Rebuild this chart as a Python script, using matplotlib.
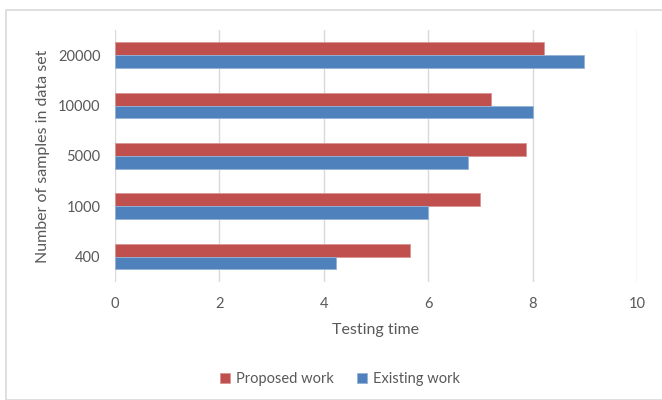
import matplotlib
matplotlib.use("Agg")
import matplotlib.pyplot as plt
from matplotlib.patches import Rectangle
import numpy as np

# Data: testing time by number of samples in the data set
categories = ["400", "1000", "5000", "10000", "20000"]
proposed_work = [5.65, 7.0, 7.87, 7.2, 8.21]
existing_work = [4.24, 6.0, 6.76, 8.0, 8.98]
x_ticks = [0, 2, 4, 6, 8, 10]

plt.rcParams["font.family"] = ["Lato", "DejaVu Sans"]
text_color = "#595959"
red = "#C0504D"
blue = "#4F81BD"

fig = plt.figure(figsize=(6.62, 4.0), dpi=100)
ax = fig.add_axes([0.1731, 0.2958, 0.7893, 0.6292])

# light outer chart frame
fig.patches.append(Rectangle((6 / 662, 0), 1.0, 1 - 10 / 400, transform=fig.transFigure,
                             fill=False, edgecolor="#D9D9D9", linewidth=1.2))

y = np.arange(len(categories))
h = 0.258
ax.barh(y + h / 2, proposed_work, height=h, color=red, edgecolor="#D99694",
        linewidth=0.6, label="Proposed work", zorder=3)
ax.barh(y - h / 2, existing_work, height=h, color=blue, edgecolor="#95B3D7",
        linewidth=0.6, label="Existing work", zorder=3)

ax.set_xlim(0, 10)
ax.set_ylim(-0.5, len(categories) - 0.5)
ax.set_xticks(x_ticks)
ax.set_xticklabels([str(t) for t in x_ticks])
ax.set_yticks(y)
ax.set_yticklabels(categories)
ax.grid(axis="x", color="#D9D9D9", linewidth=1.0, zorder=0)
ax.set_axisbelow(True)
for s in ax.spines.values():
    s.set_visible(False)
ax.tick_params(axis="both", length=0, colors=text_color, labelsize=10.5)
ax.tick_params(axis="x", pad=11)
ax.tick_params(axis="y", pad=10)

ax.set_xlabel("Testing time", color=text_color, fontsize=11.5, labelpad=9)
ax.set_ylabel("Number of samples in data set", color=text_color, fontsize=11.5, labelpad=6)

handles, labels = ax.get_legend_handles_labels()
leg = fig.legend(handles, labels, loc="center", bbox_to_anchor=(340 / 662, 1 - 379 / 400),
                 ncol=2, frameon=False, handlelength=0.7, handleheight=0.7,
                 handletextpad=0.4, columnspacing=1.6, fontsize=10.5)
for t in leg.get_texts():
    t.set_color(text_color)

fig.savefig("out.png", dpi=100)
